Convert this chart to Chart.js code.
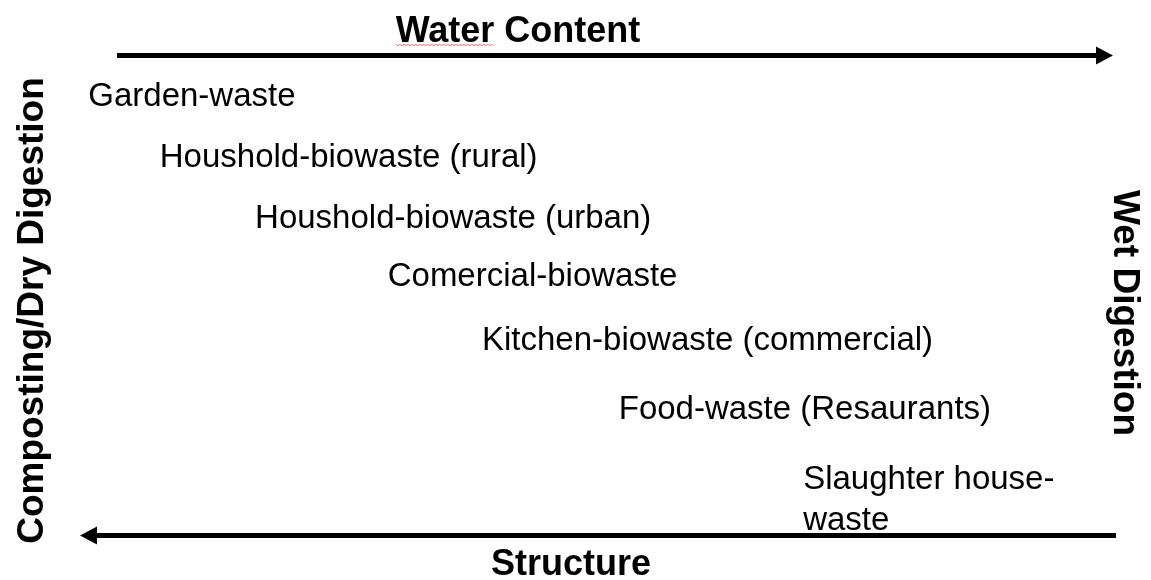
<!DOCTYPE html>
<html>
<head>
<meta charset="utf-8">
<title>Water content vs structure</title>
<script src="https://cdn.jsdelivr.net/npm/chart.js@4"></script>
<style>
  html, body { margin: 0; padding: 0; background: #fff; }
  #wrap { width: 1151px; height: 580px; position: relative; }
</style>
</head>
<body>
<div id="wrap"><canvas id="chart"></canvas></div>
<script>
// waste streams, ordered from dry/structured to wet
const wasteTypes = [
  "Garden-waste",
  "Houshold-biowaste (rural)",
  "Houshold-biowaste (urban)",
  "Comercial-biowaste",
  "Kitchen-biowaste (commercial)",
  "Food-waste (Resaurants)",
  ["Slaughter house-", "waste"]
];
// relative water content (0..100, left -> right)
const waterContent = [0.8, 7.7, 16.9, 29.7, 38.8, 52, 69.8];
// relative structure level (0..100, bottom -> top)
const structureLevel = [89.4, 76.7, 64, 52, 38.7, 24.3, 9.8];

const topLabel = "Water Content";
const bottomLabel = "Structure";
const leftLabel = "Composting/Dry Digestion";
const rightLabel = "Wet Digestion";

const FONT = "'Liberation Sans', Arial, sans-serif";

function arrow(ctx, x1, x2, y, head, half) {
  const dir = Math.sign(x2 - x1);
  ctx.beginPath();
  ctx.moveTo(x1, y);
  ctx.lineTo(x2 - dir * head, y);
  ctx.stroke();
  ctx.beginPath();
  ctx.moveTo(x2, y);
  ctx.lineTo(x2 - dir * head, y - half);
  ctx.lineTo(x2 - dir * head, y + half);
  ctx.closePath();
  ctx.fill();
}

const diagramPlugin = {
  id: "diagram",
  afterDatasetsDraw(chart) {
    const { ctx, chartArea: a } = chart;
    ctx.save();
    ctx.fillStyle = "#000";
    ctx.strokeStyle = "#000";
    ctx.lineWidth = 5;

    // arrows along top and bottom
    arrow(ctx, a.left + 37, a.right - 3, a.top + 0.5, 17, 9);
    arrow(ctx, a.right, a.left, a.bottom - 0.5, 17, 9);

    // labels at data points
    const meta = chart.getDatasetMeta(0);
    ctx.font = "33px " + FONT;
    ctx.textAlign = "left";
    ctx.textBaseline = "alphabetic";
    meta.data.forEach((pt, i) => {
      const lbl = wasteTypes[i];
      const lines = Array.isArray(lbl) ? lbl : [lbl];
      lines.forEach((ln, j) => ctx.fillText(ln, pt.x, pt.y + j * 41));
    });

    // axis titles
    ctx.font = "bold 36px " + FONT;
    ctx.textAlign = "center";
    ctx.fillText(topLabel, 518, a.top - 13);
    const ww = ctx.measureText("Water").width;
    const wx0 = 518 - ctx.measureText(topLabel).width / 2;
    ctx.fillText(bottomLabel, 571, a.bottom + 39);

    // spell-check squiggle under "Water"
    ctx.strokeStyle = "rgba(225,70,70,0.75)";
    ctx.lineWidth = 1;
    ctx.beginPath();
    for (let x = wx0, k = 0; x <= wx0 + ww; x += 2, k++) {
      const y = a.top - 10 + (k % 2 ? 1 : -1);
      k === 0 ? ctx.moveTo(x, y) : ctx.lineTo(x, y);
    }
    ctx.stroke();

    ctx.font = "bold 37px " + FONT;
    ctx.save();
    ctx.translate(43, (a.top + a.bottom) / 2 + 15);
    ctx.rotate(-Math.PI / 2);
    ctx.fillText(leftLabel, 0, 0);
    ctx.restore();

    ctx.save();
    ctx.translate(1114, (a.top + a.bottom) / 2 + 17.5);
    ctx.rotate(Math.PI / 2);
    ctx.fillText(rightLabel, 0, 0);
    ctx.restore();

    ctx.restore();
  }
};

new Chart(document.getElementById("chart"), {
  type: "scatter",
  data: {
    datasets: [{
      data: waterContent.map((x, i) => ({ x, y: structureLevel[i] })),
      pointRadius: 0,
      pointHoverRadius: 0
    }]
  },
  options: {
    responsive: true,
    maintainAspectRatio: false,
    animation: false,
    layout: { padding: { left: 80, right: 35, top: 55, bottom: 44 } },
    plugins: { legend: { display: false }, tooltip: { enabled: false } },
    scales: {
      x: { type: "linear", min: 0, max: 100, display: false },
      y: { type: "linear", min: 0, max: 100, display: false }
    }
  },
  plugins: [diagramPlugin]
});
</script>
</body>
</html>
